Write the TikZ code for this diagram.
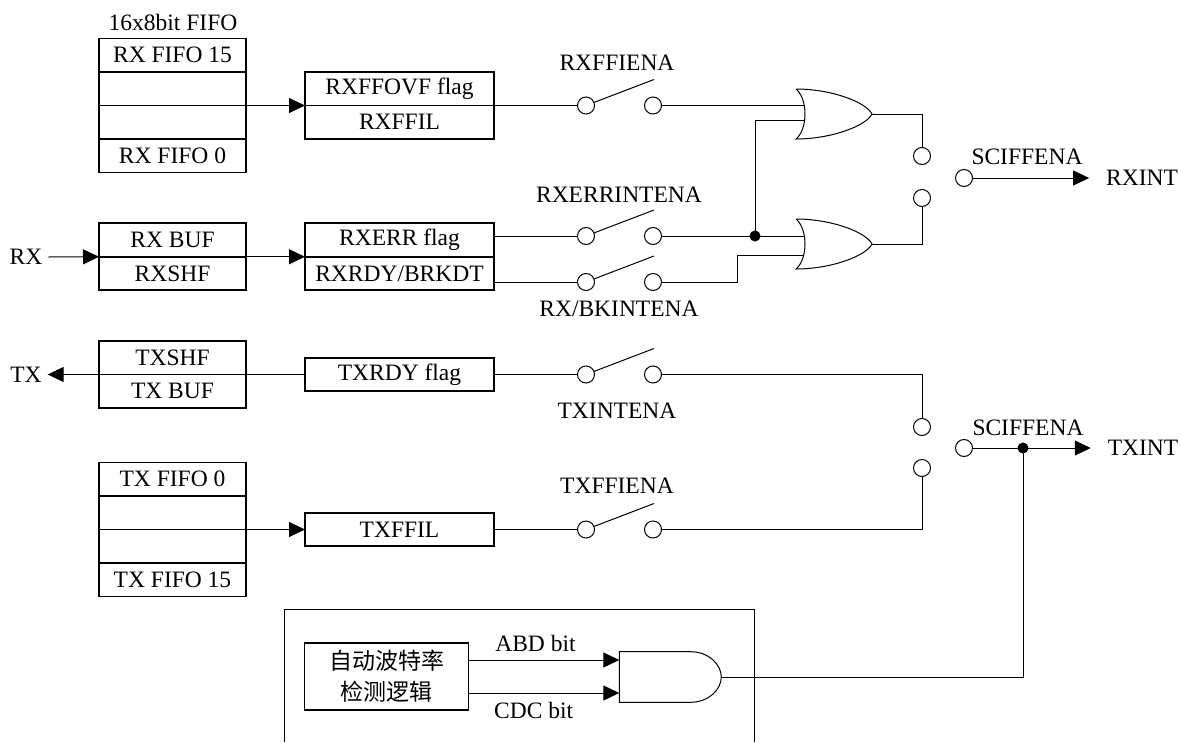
\documentclass[tikz,border=0pt]{standalone}
\usepackage{fontspec}
\setmainfont{Liberation Serif}
\newfontfamily\cjk{Noto Sans CJK SC}
\usetikzlibrary{arrows.meta}
\tikzset{
  lbl/.style={inner sep=0pt, outer sep=0pt, font=\fontsize{23.5}{26}\selectfont},
  cell/.style={draw, line width=1.7pt, inner sep=0pt, outer sep=0pt, minimum height=33.5pt, font=\fontsize{23.5}{26}\selectfont},
  fifo/.style={cell, minimum width=147pt},
  flag/.style={cell, minimum width=189pt},
  term/.style={draw, circle, fill=white, inner sep=0pt, minimum size=17pt, outer sep=0pt},
  dot/.style={draw, circle, fill=black, inner sep=0pt, minimum size=10pt, outer sep=0pt},
  orgate/.pic={
    \draw (0,-25) .. controls (35,-25) and (70,-12) .. (76,0)
      .. controls (70,12) and (35,25) .. (0,25)
      .. controls (12,15) and (12,-15) .. (0,-25);
    \coordinate (-in) at (8,0);
    \coordinate (-out) at (76,0);
  },
  andgate/.pic={
    \draw (0,-25.3) -- (71,-25.3) .. controls (90,-25.3) and (102,-12) .. (102,0)
      .. controls (102,12) and (90,25.3) .. (71,25.3) -- (0,25.3) -- cycle;
    \coordinate (-out) at (102,0);
  }
}
\begin{document}
\begin{tikzpicture}[x=1pt, y=-1pt, line width=1pt, >={Triangle[length=16pt,width=15pt]}]
\useasboundingbox (0,0) rectangle (1181,742);
\node[lbl] (rxtitle) at (173,22) {16x8bit FIFO};
\node[fifo] (rxf15) at (172.5,55.25) {RX FIFO 15};
\node[fifo] (rxf2) at (172.5,88.75) {};
\node[fifo] (rxf1) at (172.5,122.25) {};
\node[fifo] (rxf0) at (172.5,155.75) {RX FIFO 0};
\node[flag] (rxovf) at (399.5,88.75) {RXFFOVF flag};
\node[flag] (rxfil) at (399.5,122.25) {RXFFIL};
\node[lbl, inner xsep=6pt] (rx) at (26,257) {RX};
\node[fifo] (rxbuf) at (172.5,240) {RX BUF};
\node[fifo] (rxshf) at (172.5,273.5) {RXSHF};
\node[flag] (rxerr) at (399.5,240) {RXERR flag};
\node[flag] (rxrdy) at (399.5,273.5) {RXRDY/BRKDT};
\node[lbl, inner xsep=6pt] (tx) at (26,374.5) {TX};
\node[fifo] (txshf) at (172.5,357.75) {TXSHF};
\node[fifo] (txbuf) at (172.5,391.25) {TX BUF};
\node[flag] (txrdy) at (399.5,374.5) {TXRDY flag};
\node[fifo] (txf0) at (172.5,479.25) {TX FIFO 0};
\node[fifo] (txf1) at (172.5,512.75) {};
\node[fifo] (txf2) at (172.5,546.25) {};
\node[fifo] (txf15) at (172.5,579.75) {TX FIFO 15};
\node[flag] (txfil) at (399.5,529.5) {TXFFIL};

\node[lbl] (ffl) at (617,63) {RXFFIENA};
\node[term] (ffa) at (586,105.5) {};
\node[term] (ffb) at (653,105.5) {};
\coordinate (ffs) at (654,79.5);
\node[lbl] (errl) at (619,195) {RXERRINTENA};
\node[term] (erra) at (586,236) {};
\node[term] (errb) at (653,236) {};
\coordinate (errs) at (654,210);
\node[lbl] (rdyl) at (619,309) {RX/BKINTENA};
\node[term] (rdya) at (586,282) {};
\node[term] (rdyb) at (653,282) {};
\coordinate (rdys) at (654,256);
\node[lbl] (txl) at (617,411) {TXINTENA};
\node[term] (txa) at (586,374.5) {};
\node[term] (txb) at (653,374.5) {};
\coordinate (txs) at (654,348.5);
\node[lbl] (tfl) at (617,486) {TXFFIENA};
\node[term] (tfa) at (586,529.5) {};
\node[term] (tfb) at (653,529.5) {};
\coordinate (tfs) at (654,503.5);

\pic (ora) at (796,114) {orgate};
\pic (orb) at (796,244) {orgate};
\node[dot] (jn) at (755,236) {};
\coordinate (wra) at (755,120);
\coordinate (wrb) at (737,282);
\coordinate (wrc) at (737,255);

\node[term] (rt) at (922,156) {};
\node[term] (rb) at (922,198) {};
\node[term] (rc) at (964,178) {};
\node[lbl] (rsel) at (1027,157) {SCIFFENA};
\node[lbl, inner xsep=17pt] (rxint) at (1142,178) {RXINT};
\node[term] (tt) at (922,427) {};
\node[term] (tb) at (922,468) {};
\node[term] (tc) at (964,448) {};
\node[lbl] (tsel) at (1028,428) {SCIFFENA};
\node[dot] (td) at (1023,448) {};
\node[lbl, inner xsep=17pt] (txint) at (1143,448) {TXINT};

\draw (284,742) -- (284,609) -- (754,609) -- (754,742);
\node[cell, minimum width=164pt, minimum height=67pt, align=center, font=\fontsize{23}{31}\selectfont\cjk] (logic) at (386.5,676.5) {自动波特率\\检测逻辑};
\pic (gate) at (619.3,677) {andgate};
\coordinate (anda) at (619.3,660);
\coordinate (andb) at (619.3,693);
\node[lbl] (abd) at (535.5,643) {ABD bit};
\node[lbl] (cdc) at (533.7,710) {CDC bit};

\draw[->] (rxf2.south east) -- (rxovf.south west);
\draw[->] (rx.east) -- (rxbuf.south west);
\draw[->] (rxbuf.south east) -- (rxerr.south west);
\draw[->] (txrdy.west) -- (tx.east);
\draw[->] (txf1.south east) -- (txfil.west);
\draw (rxovf.south east) -- (ffa);
\draw (ffa) -- (ffs);
\draw (ffb) -- (ora-in |- ffb);
\draw (rxerr.east |- erra) -- (erra);
\draw (erra) -- (errs);
\draw (errb) -- (jn) -- (orb-in |- jn);
\draw (jn) -- (wra) -- (ora-in |- wra);
\draw (rxrdy.east |- rdya) -- (rdya);
\draw (rdya) -- (rdys);
\draw (rdyb) -- (wrb) -- (wrc) -- (orb-in |- wrc);
\draw (txrdy.east) -- (txa);
\draw (txa) -- (txs);
\draw (txb) -| (tt);
\draw (txfil.east) -- (tfa);
\draw (tfa) -- (tfs);
\draw (tfb) -| (tb);
\draw (ora-out) -| (rt);
\draw (orb-out) -| (rb);
\draw[->] (rc) -- (rxint.west);
\draw[->] (tc) -- (txint.west);
\draw (gate-out) -| (td);
\draw[->] (logic.east |- anda) -- (anda);
\draw[->] (logic.east |- andb) -- (andb);
\end{tikzpicture}
\end{document}
